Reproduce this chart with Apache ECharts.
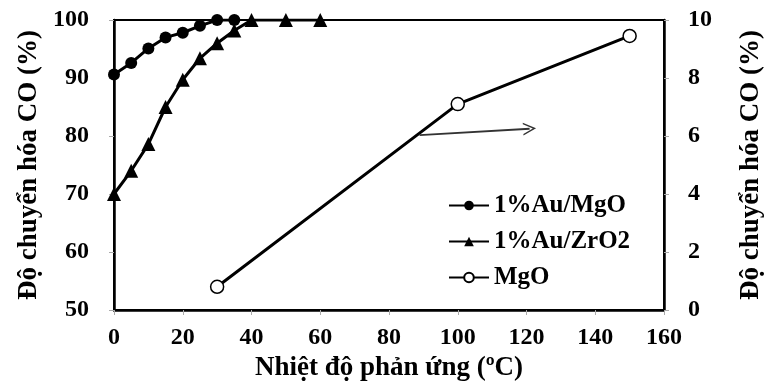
<!DOCTYPE html>
<html>
<head>
<meta charset="utf-8">
<script src="https://cdn.jsdelivr.net/npm/echarts@6/dist/echarts.min.js"></script>
<style>
html,body{margin:0;padding:0;background:#fff;}
#chart{width:773px;height:387px;}
</style>
</head>
<body>
<div id="chart"></div>
<script>
// ---- data ----
const seriesNames = ['1%Au/MgO', '1%Au/ZrO2', 'MgO'];
const auMgO_T = [0, 5, 10, 15, 20, 25, 30, 35];
const auMgO_CO = [90.6, 92.6, 95.1, 97.0, 97.8, 99.0, 100, 100];
const auZrO2_T = [0, 5, 10, 15, 20, 25, 30, 35, 40, 50, 60];
const auZrO2_CO = [70.0, 74.0, 78.6, 85.0, 89.7, 93.4, 96.0, 98.2, 100, 100, 100];
const mgO_T = [30, 100, 150];
const mgO_CO = [0.8, 7.1, 9.45];
const arrowFrom = [88.9, 6.03];
const arrowTo = [120.9, 6.25];

const xTitle = 'Nhiệt độ phản ứng (ºC)';
const yTitle = 'Độ chuyển hóa CO (%)';

const pair = (xs, ys) => xs.map((x, i) => [x, ys[i]]);

const FONT = "'Liberation Serif','Times New Roman',serif";
const tickLabel = {color: '#000', fontFamily: FONT, fontWeight: 'bold', fontSize: 24};
const titleStyle = {color: '#000', fontFamily: FONT, fontWeight: 'bold', fontSize: 27};

const chart = echarts.init(document.getElementById('chart'), null, {renderer: 'canvas'});
chart.setOption({
  animation: false,
  backgroundColor: '#fff',
  grid: {left: 114, right: 95, top: 20, bottom: 76, show: true, borderColor: '#000', borderWidth: 2, backgroundColor: 'transparent'},
  legend: {
    orient: 'vertical', left: 443, top: 188, itemGap: 11, itemWidth: 40, itemHeight: 12,
    textStyle: {color: '#000', fontFamily: FONT, fontWeight: 'bold', fontSize: 25},
    data: seriesNames
  },
  xAxis: {
    type: 'value', min: 0, max: 160, interval: 20,
    name: xTitle, nameLocation: 'middle', nameGap: 45, nameTextStyle: titleStyle,
    axisLine: {show: true, lineStyle: {color: '#000', width: 2.5}},
    axisTick: {show: true, inside: false, length: 5, lineStyle: {color: '#aaa', width: 1}},
    axisLabel: Object.assign({margin: 16}, tickLabel),
    splitLine: {show: false}
  },
  yAxis: [{
    type: 'value', min: 50, max: 100, interval: 10, position: 'left',
    name: yTitle, nameLocation: 'middle', nameGap: 66, nameRotate: 90, nameTextStyle: titleStyle,
    axisLine: {show: true, lineStyle: {color: '#000', width: 2.5}},
    axisTick: {show: true, inside: false, length: 5, lineStyle: {color: '#aaa', width: 1}},
    axisLabel: Object.assign({margin: 25}, tickLabel),
    splitLine: {show: false}
  }, {
    type: 'value', min: 0, max: 10, interval: 2, position: 'right',
    name: yTitle, nameLocation: 'middle', nameGap: 74, nameRotate: 90, nameTextStyle: titleStyle,
    axisLine: {show: true, lineStyle: {color: '#000', width: 2.5}},
    axisTick: {show: true, inside: false, length: 5, lineStyle: {color: '#aaa', width: 1}},
    axisLabel: Object.assign({margin: 24}, tickLabel),
    splitLine: {show: false}
  }],
  series: [{
    name: seriesNames[0], type: 'line', yAxisIndex: 0,
    data: pair(auMgO_T, auMgO_CO),
    symbol: 'circle', symbolSize: 12,
    lineStyle: {color: '#000', width: 3},
    itemStyle: {color: '#000'}
  }, {
    name: seriesNames[1], type: 'line', yAxisIndex: 0,
    data: pair(auZrO2_T, auZrO2_CO),
    symbol: 'triangle', symbolSize: 14,
    lineStyle: {color: '#000', width: 3},
    itemStyle: {color: '#000'}
  }, {
    name: seriesNames[2], type: 'line', yAxisIndex: 1,
    data: pair(mgO_T, mgO_CO),
    symbol: 'circle', symbolSize: 13,
    lineStyle: {color: '#000', width: 3},
    itemStyle: {color: '#fff', borderColor: '#000', borderWidth: 1.5},
    markLine: {
      silent: true, animation: false,
      symbol: ['none', 'path://M10,0 L20,20 L17.4,20 L10,5 L2.6,20 L0,20 Z'],
      symbolSize: 13,
      label: {show: false},
      lineStyle: {color: '#333', width: 1.8, type: 'solid'},
      emphasis: {disabled: true},
      data: [[{coord: arrowFrom}, {coord: arrowTo}]]
    }
  }]
});
</script>
</body>
</html>
